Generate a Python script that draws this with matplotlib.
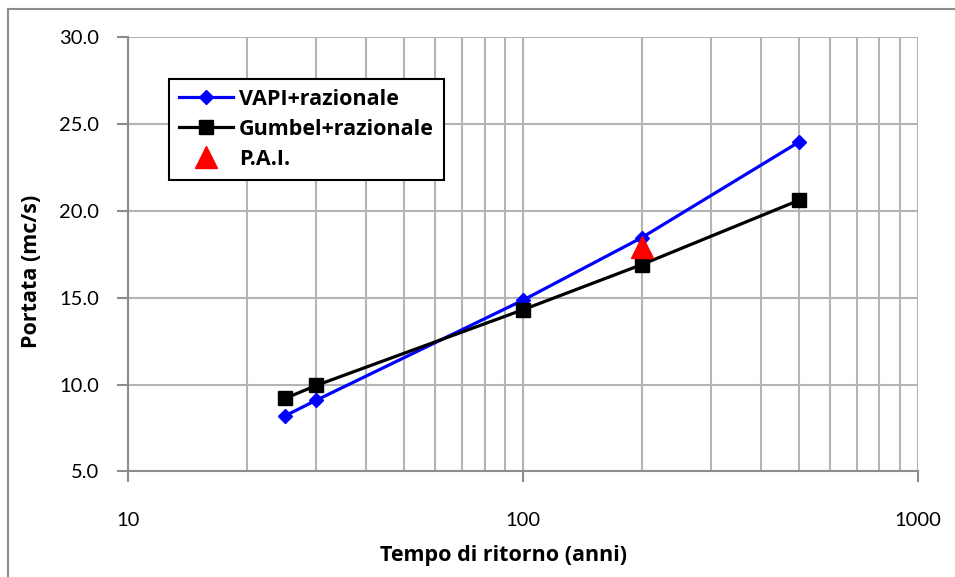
import matplotlib.pyplot as plt
from matplotlib.patches import Rectangle
from matplotlib.ticker import FixedLocator, FixedFormatter, NullFormatter

plt.rcParams['font.family'] = ['Lato', 'DejaVu Sans']

# data
tempo = [25, 30, 100, 200, 500]
vapi = [8.2, 9.1, 14.85, 18.45, 23.95]
gumbel = [9.2, 9.95, 14.3, 16.9, 20.6]
pai_t = [200]
pai_q = [17.9]

x_ticks = [10, 100, 1000]
x_labels = ['10', '100', '1000']
y_ticks = [5, 10, 15, 20, 25, 30]

fig = plt.figure(figsize=(9.55, 5.77), dpi=100)
ax = fig.add_axes([0.134, 0.183, 0.827, 0.753])

# outer chart frame (cut at right/bottom like the reference)
fig.patches.append(Rectangle((8 / 955, -0.05), 1.2, (577 - 9) / 577 + 0.05,
                             transform=fig.transFigure, fill=False,
                             edgecolor='#8c8c8c', linewidth=1.5))

ax.plot(tempo, vapi, color='#0000ff', linewidth=2.3, marker='D', markersize=7,
        label='VAPI+razionale', zorder=3)
ax.plot(tempo, gumbel, color='black', linewidth=2.3, marker='s', markersize=10,
        label='Gumbel+razionale', zorder=3)
ax.plot(pai_t, pai_q, linestyle='none', color='red', marker='^', markersize=16,
        label='P.A.I.', zorder=4)

ax.set_xscale('log')
ax.set_xlim(10, 1000)
ax.set_ylim(5, 30)
ax.xaxis.set_major_locator(FixedLocator(x_ticks))
ax.xaxis.set_major_formatter(FixedFormatter(x_labels))
ax.xaxis.set_minor_formatter(NullFormatter())
ax.set_yticks(y_ticks)
ax.set_yticklabels([f'{v:.1f}' for v in y_ticks])

ax.grid(True, which='both', axis='x', color='#b4b4b4', linewidth=1.5)
ax.grid(True, which='major', axis='y', color='#b4b4b4', linewidth=1.5)
ax.set_axisbelow(True)

for s in ['top', 'right']:
    ax.spines[s].set_visible(False)
for s in ['left', 'bottom']:
    ax.spines[s].set_color('#8c8c8c')
    ax.spines[s].set_linewidth(1.5)

ax.tick_params(axis='both', which='major', direction='out', length=8, width=1.5,
               color='#8c8c8c', labelsize=14.5)
ax.tick_params(axis='y', which='major', pad=13)
ax.tick_params(axis='x', which='major', pad=21)
ax.tick_params(axis='x', which='minor', length=0)

bold_font = {'family': ['Open Sans', 'DejaVu Sans'], 'size': 15.5, 'weight': 'bold'}
ax.set_xlabel('Tempo di ritorno (anni)', fontdict=bold_font)
ax.xaxis.set_label_coords(0.475, -0.17)
ax.set_ylabel('Portata (mc/s)', fontdict=bold_font)
ax.yaxis.set_label_coords(-0.109, 0.461)

leg = ax.legend(loc='upper left', bbox_to_anchor=(0.052, 0.903), borderaxespad=0,
                fancybox=False, edgecolor='black', framealpha=1,
                prop={'family': ['Open Sans', 'DejaVu Sans'], 'size': 15.5, 'weight': 'bold'},
                handlelength=2.5, handletextpad=0.3, labelspacing=0.42, borderpad=0.45)
leg.get_frame().set_linewidth(1.5)

fig.savefig('out.png', dpi=100)
